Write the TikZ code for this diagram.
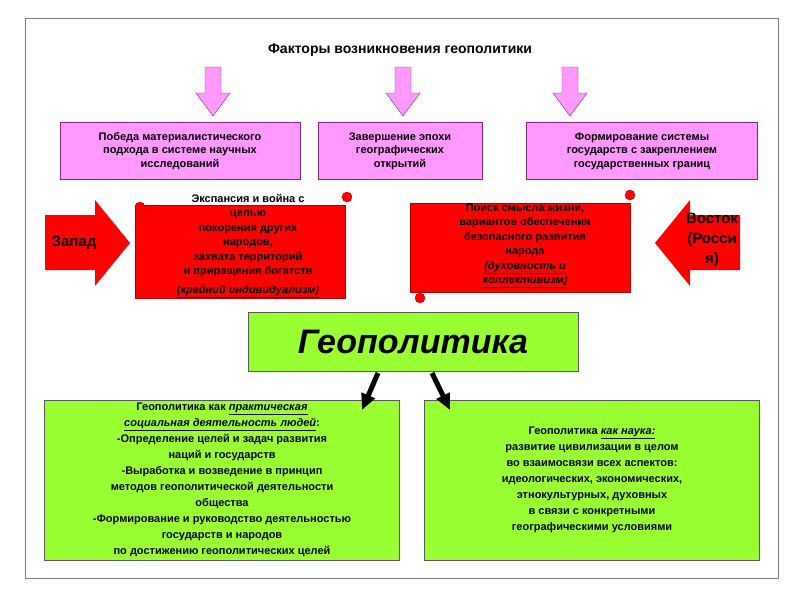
\documentclass[tikz,border=0pt]{standalone}
\usepackage{fontspec}
\setmainfont{Liberation Sans}
\usetikzlibrary{arrows.meta}
\definecolor{pinkbox}{RGB}{255,153,255}
\definecolor{pinkline}{RGB}{128,40,128}
\definecolor{greenbox}{RGB}{153,255,51}
\begin{document}
\begin{tikzpicture}[x=1pt,y=-1pt,
  every node/.style = {align=center, font=\fontsize{11}{13.5}\selectfont\bfseries},
  factor/.style = {draw=pinkline, fill=pinkbox, minimum height=57pt, inner sep=2pt},
  pinkarrow/.style = {draw=pinkline, fill=pinkbox},
  scroll/.style = {fill=red, draw=red!70!black},
  result/.style = {draw=gray!70!black, fill=greenbox, font=\fontsize{11}{16}\selectfont\bfseries},
  blackarrow/.style = {-{Triangle[length=16pt,width=14pt]}, line width=5pt}]
  \useasboundingbox (0,0) rectangle (800,600);
  \draw[gray, line width=1pt] (25,18) rectangle (778,578);
  \node[font=\fontsize{14}{16}\selectfont\bfseries] (title) at (400,50) {Факторы возникновения геополитики};
  % pink arrows and factors
  \foreach \x in {213, 403, 570}
    \draw[pinkarrow] (\x-8,67) -- (\x+8,67) -- (\x+8,93) -- (\x+17,93) -- (\x,116)
      -- (\x-17,93) -- (\x-8,93) -- cycle;
  \node[factor, minimum width=240pt] (f1) at (180,151) {Победа материалистического\\подхода в системе научных\\исследований};
  \node[factor, minimum width=164pt] (f2) at (400,151) {Завершение эпохи\\географических\\открытий};
  \node[factor, minimum width=231pt] (f3) at (642,151) {Формирование системы\\государств с закреплением\\государственных границ};
  % west and east
  \fill[red] (45,215) -- (95,215) -- (95,200) -- (130,243) -- (95,286) -- (95,270) -- (45,270) -- cycle;
  \node[font=\fontsize{15}{17}\selectfont\bfseries] (west) at (74,243) {Запад};
  \fill[red] (740,215) -- (690,215) -- (690,200) -- (655,243) -- (690,286) -- (690,270) -- (740,270) -- cycle;
  \node[font=\fontsize{15}{20}\selectfont\bfseries] (east) at (712,240) {Восток\\(Росси\\я)};
  % scrolls
  \draw[scroll] (135,205) rectangle (345,298);
  \draw[scroll] (140,207) circle (5pt) (347,197) circle (5pt);
  \draw[scroll] (410,203) rectangle (630,292);
  \draw[scroll] (630,195) circle (5pt) (420,298) circle (5pt);
  \node[font=\fontsize{11}{14.5}\selectfont\bfseries] (westtxt) at (248,246) {Экспансия и война с\\целью\\покорения других\\народов,\\захвата территорий\\и приращения богатств\\[4pt]\underline{\itshape (крайний индивидуализм)}};
  \node[font=\fontsize{11}{14.5}\selectfont\bfseries] (easttxt) at (525,246) {Поиск смысла жизни,\\вариантов обеспечения\\безопасного развития\\народа\\\underline{\itshape (духовность и}\\\underline{\itshape коллективизм)}};
  % centre
  \node[draw=gray!70!black, fill=greenbox, minimum width=330pt, minimum height=59pt,
    font=\fontsize{34}{36}\selectfont\bfseries\itshape] (geo) at (413,342) {Геополитика};
  \node[result, minimum width=355pt, minimum height=160pt] (r1) at (222,480) {Геополитика как \underline{\itshape практическая}\\\underline{\itshape социальная деятельность людей}:\\-Определение целей и задач развития\\наций и государств\\-Выработка и возведение в принцип\\методов геополитической деятельности\\общества\\-Формирование и руководство деятельностью\\государств и народов\\по достижению геополитических целей};
  \node[result, minimum width=335pt, minimum height=160pt] (r2) at (592,480) {Геополитика \underline{\itshape как наука:}\\развитие цивилизации в целом\\во взаимосвязи всех аспектов:\\идеологических, экономических,\\этнокультурных, духовных\\в связи с конкретными\\географическими условиями};
  \draw[blackarrow] (378,373) -- (362,410);
  \draw[blackarrow] (432,373) -- (450,410);
\end{tikzpicture}
\end{document}
